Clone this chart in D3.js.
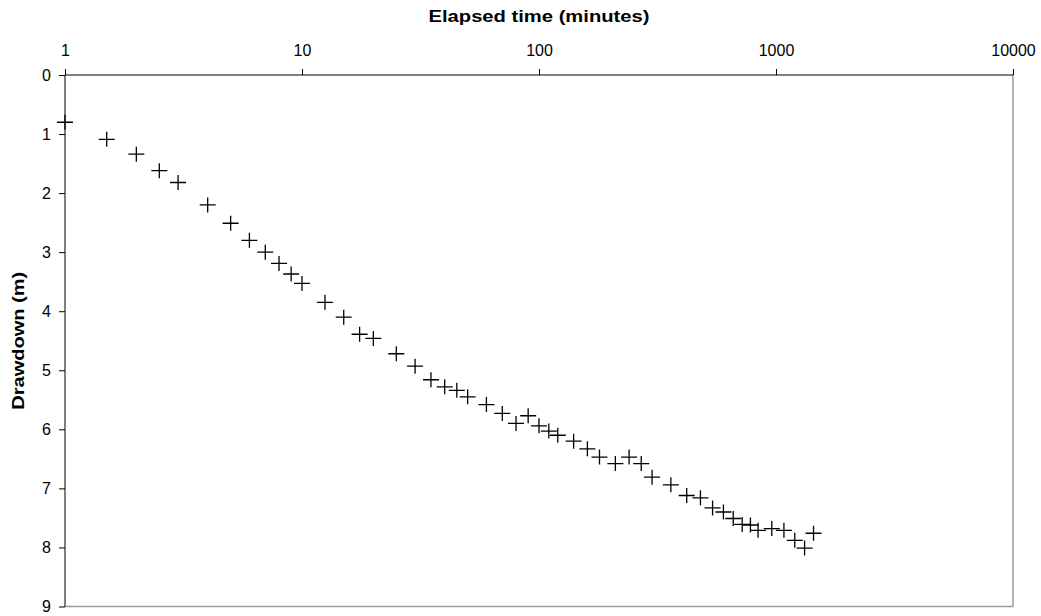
<!DOCTYPE html>
<html lang="en">
<head>
    <meta charset="UTF-8">
    <title>Drawdown vs elapsed time</title>
    <style>
        body { margin: 0; background: #fff; }
        svg { display: block; font-family: "Liberation Sans", Arial, sans-serif; }
    </style>
</head>
<body>
    <script src="https://d3js.org/d3.v7.min.js"></script>

    <div id="chart"></div>

<script>
// données
const elapsedMinutes = [1, 1.5, 2, 2.5, 3, 4, 5, 6, 7, 8, 9, 10, 12.5, 15, 17.5, 20, 25, 30, 35, 40,
    45, 50, 60, 70, 80, 90, 100, 110, 120, 140, 160, 180, 210, 240, 270, 300, 360, 420, 480, 540,
    600, 660, 720, 780, 840, 960, 1080, 1200, 1320, 1440];
const drawdownM = [0.80, 1.09, 1.34, 1.62, 1.82, 2.20, 2.51, 2.80, 3.00, 3.19, 3.37, 3.53, 3.85, 4.10, 4.39, 4.46, 4.72, 4.93, 5.16, 5.28,
    5.34, 5.45, 5.58, 5.73, 5.90, 5.77, 5.94, 6.03, 6.10, 6.20, 6.33, 6.47, 6.58, 6.47, 6.58, 6.81, 6.94, 7.12, 7.16, 7.33,
    7.40, 7.51, 7.61, 7.62, 7.71, 7.68, 7.71, 7.88, 8.01, 7.76];
const xTicks = [1, 10, 100, 1000, 10000];
const yTicks = [0, 1, 2, 3, 4, 5, 6, 7, 8, 9];

const points = elapsedMinutes.map((t, i) => ({t: t, s: drawdownM[i]}));

// dimensions
const W = 1041, H = 616;
const margin = {top: 75, right: 28, bottom: 9.5, left: 65};
const width = W - margin.left - margin.right,
      height = H - margin.top - margin.bottom;

const svg = d3.select("#chart")
    .append("svg")
    .attr("width", W)
    .attr("height", H);

const g = svg.append("g")
    .attr("transform", "translate(" + margin.left + "," + margin.top + ")");

// échelles
const x = d3.scaleLog()
    .domain([1, 10000])
    .range([0, width]);

const y = d3.scaleLinear()
    .domain([0, 9])
    .range([0, height]);

// cadre droit et bas (gris)
g.append("line")
    .attr("x1", width).attr("x2", width)
    .attr("y1", 0).attr("y2", height)
    .attr("stroke", "#9a9a9a").attr("stroke-width", 1.5);
g.append("line")
    .attr("x1", 0).attr("x2", width)
    .attr("y1", height).attr("y2", height)
    .attr("stroke", "#9a9a9a").attr("stroke-width", 1.5);

// axes
const xAxis = d3.axisTop(x)
    .tickValues(xTicks)
    .tickFormat(d3.format("d"))
    .tickSize(6)
    .tickPadding(13);

const yAxis = d3.axisLeft(y)
    .tickValues(yTicks)
    .tickFormat(d3.format("d"))
    .tickSize(6)
    .tickPadding(8);

const gx = g.append("g").call(xAxis);
const gy = g.append("g").call(yAxis);

[gx, gy].forEach(a => {
    a.select(".domain").remove();
    a.selectAll(".tick line").attr("stroke", "#000");
    a.selectAll("text").attr("fill", "#000").style("font-size", "16px");
});
gx.selectAll("text").attr("dy", "0em");

// axes noirs (haut et gauche)
g.append("line").attr("x1", 0).attr("x2", width).attr("y1", 0).attr("y2", 0).attr("stroke", "#000");
g.append("line").attr("x1", 0).attr("x2", 0).attr("y1", 0).attr("y2", height).attr("stroke", "#000");

// titres d'axes
svg.append("text")
    .attr("x", margin.left + width / 2)
    .attr("y", 22)
    .attr("text-anchor", "middle")
    .attr("textLength", 221)
    .attr("lengthAdjust", "spacingAndGlyphs")
    .style("font-size", "16px")
    .style("font-weight", "bold")
    .text("Elapsed time (minutes)");

svg.append("text")
    .attr("transform", "translate(24," + (margin.top + height / 2) + ") rotate(-90)")
    .attr("text-anchor", "middle")
    .attr("textLength", 138)
    .attr("lengthAdjust", "spacingAndGlyphs")
    .style("font-size", "16px")
    .style("font-weight", "bold")
    .text("Drawdown (m)");

// points en croix
g.append("g")
    .selectAll("path")
    .data(points)
    .enter()
    .append("path")
    .attr("transform", d => "translate(" + x(d.t) + "," + y(d.s) + ")")
    .attr("d", "M-8,0H8M0,-7.5V7.5")
    .attr("stroke", "#000")
    .attr("stroke-width", 1.3)
    .attr("fill", "none");
</script>
</body>
</html>
